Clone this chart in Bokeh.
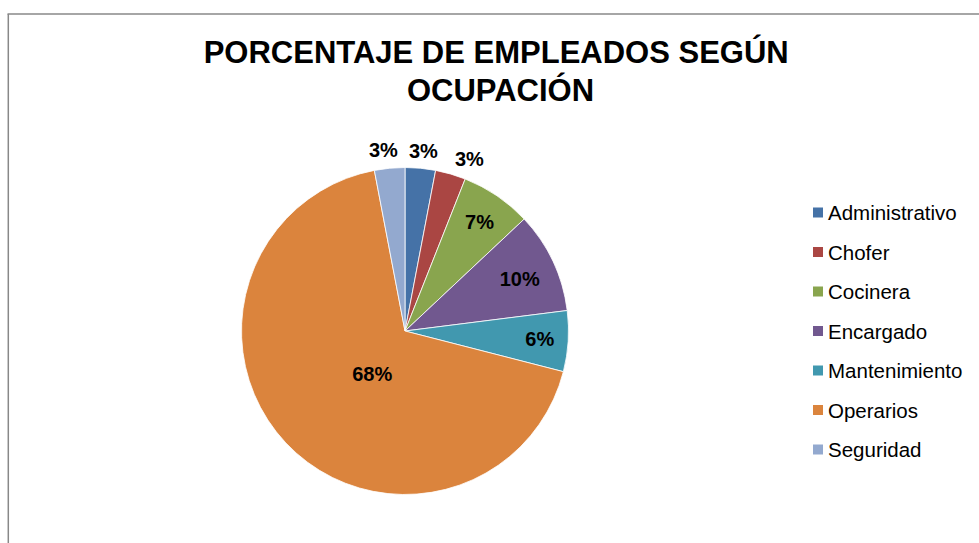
import math
from bokeh.plotting import figure
from bokeh.models import Range1d, ColumnDataSource
from bokeh.core.properties import value
from bokeh.embed import file_html
from bokeh.resources import INLINE

# ---- data ----
categories = ["Administrativo", "Chofer", "Cocinera", "Encargado",
              "Mantenimiento", "Operarios", "Seguridad"]
percentages = [3, 3, 7, 10, 6, 68, 3]
labels = ["3%", "3%", "7%", "10%", "6%", "68%", "3%"]
colors = ["#4572A7", "#AA4643", "#89A54E", "#71588F",
          "#4198AF", "#DB843D", "#93A9CF"]
title_lines = ["PORCENTAJE  DE EMPLEADOS SEGÚN", "OCUPACIÓN"]

# label placement tweaks (degrees offset from mid-angle, distance from centre in px)
label_angle_offset = [0.45, 4.3, 0.2, 0.7, -0.4, -9.4, -1.4]
label_radius = [181, 184, 132, 126, 135, 54, 182]

W, H = 979, 543
FONT = value("Liberation Sans")

p = figure(width=W, height=H, output_backend="svg", toolbar_location=None,
           x_range=Range1d(0, W), y_range=Range1d(0, H),
           x_axis_location=None, y_axis_location=None,
           min_border=0, outline_line_color=None)
p.grid.visible = False
p.background_fill_color = "white"
p.border_fill_color = "white"

# chart-area border (left and top edges visible)
p.segment(x0=[7.8, 7], y0=[H - 13.5, H - 13.5], x1=[7.8, W], y1=[0, H - 13.5],
          line_color="#888888", line_width=1.5)

# ---- pie ----
cx, cy, R = 404.5, H - 330.5, 163.5
total = sum(percentages)
starts, ends, lx, ly = [], [], [], []
cum = 0
for i, v in enumerate(percentages):
    a0 = math.pi / 2 - 2 * math.pi * cum / total
    cum += v
    a1 = math.pi / 2 - 2 * math.pi * cum / total
    starts.append(a0)
    ends.append(a1)
    mid_deg = 360 * (cum - v / 2) / total + label_angle_offset[i]
    m = math.radians(mid_deg)
    lx.append(cx + label_radius[i] * math.sin(m))
    ly.append(cy + label_radius[i] * math.cos(m))

src = ColumnDataSource(dict(start=starts, end=ends, color=colors,
                            lx=lx, ly=ly, label=labels))
p.wedge(x=cx, y=cy, radius=R, start_angle="start", end_angle="end",
        direction="clock", fill_color="color", line_color="white",
        line_width=0.8, source=src)
p.text(x="lx", y="ly", text="label", source=src, text_font=FONT,
       text_font_style="bold", text_font_size="20px", text_color="black",
       text_align="center", text_baseline="middle")

# ---- legend ----
n = len(categories)
leg_y = [H - 212 - i * 39.5 for i in range(n)]
p.rect(x=[817.5] * n, y=leg_y, width=10, height=10, fill_color=colors,
       line_color=None)
p.text(x=[827.5] * n, y=leg_y, text=categories, text_font=FONT,
       text_font_size="20.5px", text_color="black", text_align="left",
       text_baseline="middle")

# ---- title ----
p.text(x=[500, 500], y=[H - 52, H - 90], text=title_lines, text_font=FONT,
       text_font_style="bold", text_font_size="31px", text_color="black",
       text_align="center", text_baseline="middle")

open("out.html", "w").write(file_html(p, INLINE))
